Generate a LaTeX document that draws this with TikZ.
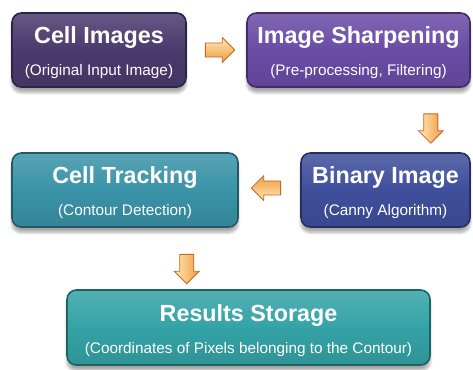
\documentclass[tikz,border=0pt]{standalone}
\usepackage{fontspec}
\setmainfont{Liberation Sans}
\usetikzlibrary{shapes.arrows,shadows.blur,calc}
\definecolor{c1}{HTML}{4B3A6E}
\definecolor{c2}{HTML}{6A4CA6}
\definecolor{c3}{HTML}{3A93A8}
\definecolor{c4}{HTML}{3F4F9C}
\definecolor{c5}{HTML}{34A3A6}
\definecolor{arrfill}{HTML}{F09A3E}
\definecolor{arrlight}{HTML}{FFE9B8}
\definecolor{arredge}{HTML}{C06A26}
\tikzset{
  box/.style={rounded corners=7pt, draw=#1!60!black, line width=1.2pt,
    top color=#1!85!white, bottom color=#1!90!black, middle color=#1,
    blur shadow={shadow xshift=0pt, shadow yshift=-4pt, shadow blur steps=8, shadow opacity=35},
    text=white, align=center, inner sep=0pt},
  arr/.style={single arrow, draw=arredge, line width=0.6pt,
    single arrow head extend=4pt, minimum width=18pt, minimum height=22pt,
    inner xsep=0pt, inner ysep=5pt},
}
\newcommand{\ttl}[1]{{\rule{0pt}{17.3pt}\bfseries\fontsize{17.5}{20}\selectfont #1}}
\newcommand{\subt}[1]{{\fontsize{11.5}{13}\selectfont #1}}
\begin{document}
\begin{tikzpicture}[x=0.75pt,y=-0.75pt]
\useasboundingbox (0,0) rectangle (473,369);
\node[box=c1, minimum width=174*0.75pt, minimum height=74*0.75pt] (b1) at (99,50)
  {\ttl{Cell Images}\\[11pt]\subt{(Original Input Image)}};
\node[box=c2, minimum width=223*0.75pt, minimum height=74*0.75pt] (b2) at (358.5,50)
  {\ttl{Image Sharpening}\\[11pt]\subt{(Pre-processing, Filtering)}};
\node[box=c3, minimum width=226*0.75pt, minimum height=74*0.75pt] (b3) at (125,190)
  {\ttl{Cell Tracking}\\[11pt]\subt{(Contour Detection)}};
\node[box=c4, minimum width=169*0.75pt, minimum height=74*0.75pt] (b4) at (385.5,190)
  {\ttl{Binary Image}\\[11pt]\subt{(Canny Algorithm)}};
\node[box=c5, minimum width=363*0.75pt, minimum height=75*0.75pt] (b5) at (248.5,327.5)
  {\ttl{Results Storage}\\[11pt]\subt{(Coordinates of Pixels belonging to the Contour)}};
% block arrows between boxes
\node[arr, top color=arrlight, bottom color=arrfill] (a1) at ($(b1.east)!0.5!(b2.west)$) {};
\node[arr, rotate=-90, left color=arrlight, right color=arrfill] (a2) at ($(b2.south east)!0.5!(b4.north east)+(-40,5)$) {};
\node[arr, rotate=180, bottom color=arrlight, top color=arrfill] (a3) at ($(b4.west)!0.5!(b3.east)+(0,-2)$) {};
\node[arr, rotate=-90, left color=arrlight, right color=arrfill] (a4) at ($(b3.south)!0.5!(b5.north)+(0,7)$) {};
\end{tikzpicture}
\end{document}
